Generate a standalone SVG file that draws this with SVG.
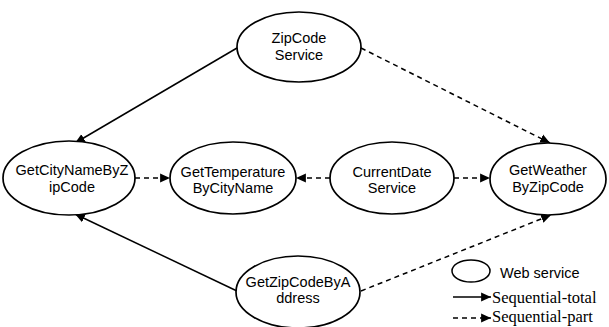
<svg xmlns="http://www.w3.org/2000/svg" width="609" height="327" viewBox="0 0 609 327">
<style>
.node ellipse{fill:#fff;stroke:#000;stroke-width:1.7}
.node text,.lg{font-family:"Liberation Sans",Arial,sans-serif;font-size:14.5px;fill:#000;text-anchor:middle}
.lg{text-anchor:start;font-size:14.5px}
.serif{font-family:"Liberation Serif","Times New Roman",serif;font-size:16.5px;fill:#000}
.e{fill:none;stroke:#000;stroke-width:1.5}
.d{stroke-dasharray:5,4}
</style>
<defs>
<marker id="ah" markerUnits="userSpaceOnUse" markerWidth="11" markerHeight="11" viewBox="0 0 10 10" refX="9" refY="5" orient="auto">
<path d="M0,1 L9,5 L0,9 Z" fill="#000"/>
</marker>
</defs>
<g id="connectors">
<line class="e" x1="237" y1="48" x2="75" y2="143" marker-end="url(#ah)"/>
<line class="e d" x1="361" y1="48" x2="550" y2="143" marker-end="url(#ah)"/>
<line class="e d" x1="135" y1="178" x2="170" y2="178" marker-end="url(#ah)"/>
<line class="e d" x1="330" y1="178" x2="296" y2="178" marker-end="url(#ah)"/>
<line class="e d" x1="454" y1="178" x2="490" y2="178" marker-end="url(#ah)"/>
<line class="e" x1="237" y1="291" x2="75" y2="214" marker-end="url(#ah)"/>
<line class="e d" x1="361" y1="291" x2="551" y2="215" marker-end="url(#ah)"/>
</g>
<g id="zipcode" class="node">
<ellipse cx="299" cy="47" rx="62" ry="35"/>
<text x="299" y="43">ZipCode</text>
<text x="299" y="60">Service</text>
</g>
<g id="getcityname" class="node">
<ellipse cx="69" cy="178" rx="66" ry="37"/>
<text x="72" y="175">GetCityNameByZ</text>
<text x="72" y="192">ipCode</text>
</g>
<g id="gettemperature" class="node">
<ellipse cx="233" cy="178" rx="63" ry="36"/>
<text x="233" y="177">GetTemperature</text>
<text x="233" y="193">ByCityName</text>
</g>
<g id="currentdate" class="node">
<ellipse cx="392" cy="178" rx="62" ry="36"/>
<text x="392" y="177">CurrentDate</text>
<text x="392" y="193">Service</text>
</g>
<g id="getweather" class="node">
<ellipse cx="548" cy="179" rx="58" ry="36"/>
<text x="548" y="175">GetWeather</text>
<text x="548" y="192">ByZipCode</text>
</g>
<g id="getzipcode" class="node">
<ellipse cx="298" cy="292" rx="62" ry="36"/>
<text x="298" y="287">GetZipCodeByA</text>
<text x="298" y="303">ddress</text>
</g>
<g id="legend">
<ellipse cx="471" cy="271" rx="19" ry="11" fill="#fff" stroke="#000" stroke-width="1.5"/>
<text class="lg" x="500" y="278">Web service</text>
<line class="e" x1="453" y1="297" x2="491" y2="297" marker-end="url(#ah)"/>
<text class="serif" x="492" y="303">Sequential-total</text>
<line class="e d" x1="453" y1="318" x2="491" y2="318" marker-end="url(#ah)"/>
<text class="serif" x="492" y="322">Sequential-part</text>
</g>
</svg>
